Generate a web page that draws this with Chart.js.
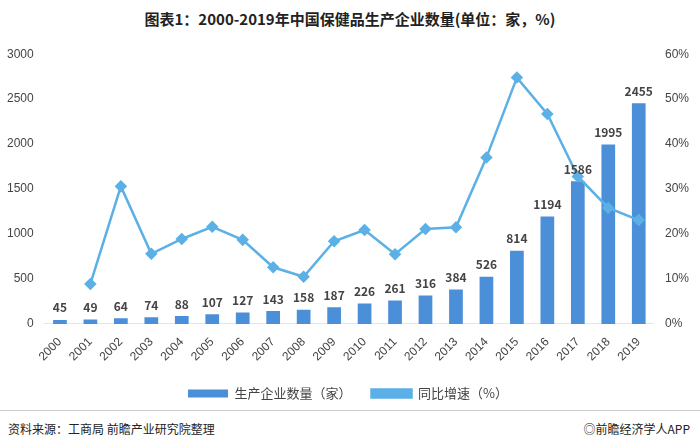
<!DOCTYPE html>
<html><head><meta charset="utf-8">
<script src="https://cdn.jsdelivr.net/npm/chart.js@4/dist/chart.umd.min.js"></script>
<style>
body{margin:0;background:#fff;font-family:"Noto Sans CJK SC",sans-serif;}
#wrap{position:relative;width:700px;height:448px;}
#title{position:absolute;top:8px;width:700px;text-align:center;font-size:15px;font-weight:bold;color:#222;}
#src{position:absolute;left:8px;top:420px;font-size:12px;color:#222;}
#brand{position:absolute;right:10px;top:420px;font-size:12px;color:#222;}
#line{position:absolute;left:0;top:410px;width:700px;border-top:1px solid #ccc;}
#box{position:absolute;left:0;top:44px;width:700px;height:366px;}
</style></head><body>
<div id="wrap">
<div id="title">图表1：2000-2019年中国保健品生产企业数量(单位：家，%)</div>
<div id="box"><canvas id="c"></canvas></div>
<div id="line"></div>
<div id="src">资料来源：工商局 前瞻产业研究院整理</div>
<div id="brand">◎前瞻经济学人APP</div>
</div>
<script>
const years = ["2000","2001","2002","2003","2004","2005","2006","2007","2008","2009","2010","2011","2012","2013","2014","2015","2016","2017","2018","2019"];
const companies = [45,49,64,74,88,107,127,143,158,187,226,261,316,384,526,814,1194,1586,1995,2455];
const growth = [null,8.9,30.6,15.6,18.9,21.6,18.7,12.6,10.5,18.4,20.9,15.5,21.1,21.5,37.0,54.8,46.7,32.8,25.8,23.1];

const barLabels = {
  id: "barLabels",
  afterDatasetsDraw(chart) {
    const ctx = chart.ctx;
    const meta = chart.getDatasetMeta(0);
    ctx.save();
    ctx.font = "bold 12px 'Noto Sans CJK SC', sans-serif";
    ctx.fillStyle = "#444";
    ctx.textAlign = "center";
    ctx.textBaseline = "bottom";
    meta.data.forEach((bar, i) => {
      ctx.fillText(companies[i], bar.x, bar.y - 6);
    });
    ctx.restore();
  }
};

new Chart(document.getElementById("c"), {
  type: "bar",
  data: {
    labels: years,
    datasets: [
      {
        type: "bar",
        label: "生产企业数量（家）",
        data: companies,
        backgroundColor: "#4a8fd8",
        yAxisID: "y",
        barPercentage: 0.5,
        categoryPercentage: 0.9,
        order: 2
      },
      {
        type: "line",
        label: "同比增速（%）",
        data: growth,
        borderColor: "#5bb0e6",
        backgroundColor: "#5bb0e6",
        borderWidth: 2.5,
        pointStyle: "rectRot",
        pointRadius: 4.5,
        yAxisID: "y1",
        order: 1
      }
    ]
  },
  options: {
    responsive: true,
    maintainAspectRatio: false,
    animation: false,
    layout: { padding: { left: 4, right: 8, top: 10 } },
    plugins: {
      legend: {
        position: "bottom",
        labels: {
          font: { size: 13, family: "Noto Sans CJK SC" }, color: "#444", boxWidth: 40, boxHeight: 8, padding: 20,
          sort: (a, b) => a.datasetIndex - b.datasetIndex
        }
      },
      tooltip: { enabled: false }
    },
    scales: {
      x: {
        grid: { display: false },
        ticks: { maxRotation: 45, minRotation: 45, color: "#444", font: { size: 12 } }
      },
      y: {
        position: "left",
        min: 0, max: 3000,
        ticks: { stepSize: 500, color: "#444", font: { size: 12 }, callback: v => String(v) },
        grid: { display: false },
        border: { display: false }
      },
      y1: {
        position: "right",
        min: 0, max: 60,
        ticks: { stepSize: 10, color: "#444", font: { size: 12 }, callback: v => v + "%" },
        grid: { display: false },
        border: { display: false }
      }
    }
  },
  plugins: [barLabels]
});
</script>
</body></html>
